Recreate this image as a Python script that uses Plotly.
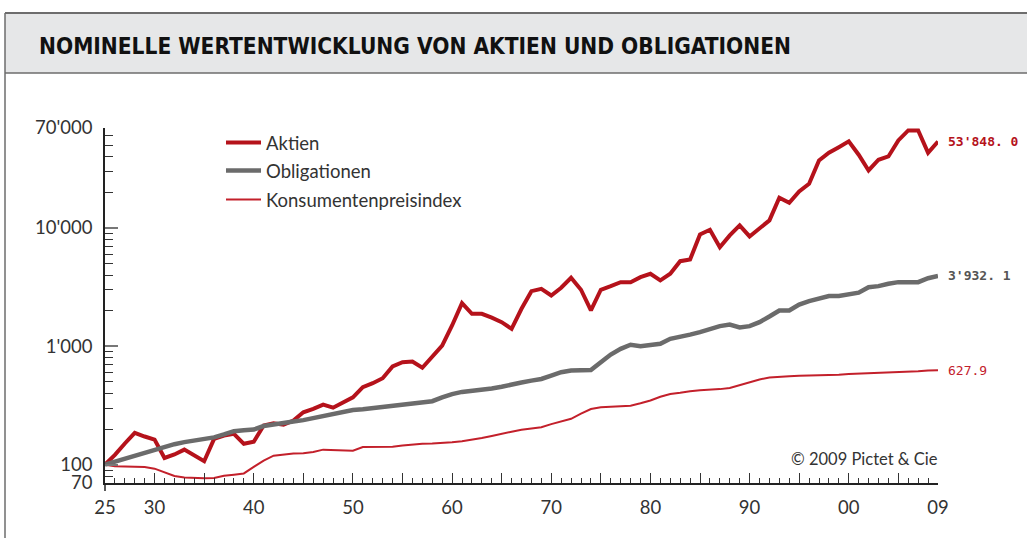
import math
import plotly.graph_objects as go

# ---------------- data ----------------
years = list(range(1925, 2010))

aktien = [100, 121, 151, 186, 173, 163, 114, 122, 134, 120,
          107, 165, 176, 182, 150, 156, 214, 224, 218, 236,
          277, 296, 322, 303, 338, 371, 452, 488, 538, 676,
          734, 745, 659, 809, 1015, 1500, 2317, 1884, 1884, 1747,
          1601, 1407, 2077, 2925, 3064, 2690, 3127, 3797, 3007, 2009,
          3007, 3223, 3485, 3485, 3842, 4103, 3610, 4103, 5242, 5415,
          8826, 9663, 6876, 8657, 10532, 8486, 9856, 11590, 18030, 16340,
          20370, 23660, 37200, 43240, 48190, 53940, 41600, 30640, 37740, 40240,
          54980, 66800, 66800, 43240, 53848.0]

obligationen = [100, 106, 112, 119, 126, 133, 141, 149, 155, 159,
                163, 170, 180, 192, 195, 198, 212, 220, 224, 232,
                238, 248, 256, 264, 276, 290, 294, 300, 310, 318,
                324, 328, 332, 344, 370, 395, 412, 420, 425, 440,
                455, 470, 495, 513, 530, 565, 605, 626, 626, 630,
                734, 853, 953, 1031, 1004, 1017, 1051, 1158, 1195, 1255,
                1318, 1407, 1481, 1530, 1446, 1481, 1601, 1788, 2009, 2009,
                2257, 2409, 2507, 2662, 2662, 2737, 2844, 3162, 3226, 3380,
                3487, 3487, 3487, 3766, 3932.1]

kpi = [100, 97, 96.5, 96, 95.5, 92.5, 86, 80.3, 78, 77.2,
       76.6, 77.2, 80.6, 82.3, 84.3, 95.7, 108, 119, 122, 124,
       125, 128, 134, 133, 132, 131, 141, 141, 141, 142,
       145, 148, 150, 151, 152, 155, 158, 162, 168, 175,
       183, 190, 197, 202, 207, 220, 232, 244, 270, 295,
       305, 309, 312, 315, 330, 349, 375, 395, 405, 418,
       425, 428, 435, 445, 470, 500, 525, 545, 555, 558,
       565, 567, 569, 570, 575, 583, 587, 590, 595, 600,
       605, 611, 617, 625, 627.9]

series_names = ["Aktien", "Obligationen", "Konsumentenpreisindex"]
end_labels = ["53'848. 0", "3'932. 1", "627.9"]

x_tickvals = [1925, 1930, 1935, 1940, 1945, 1950, 1955, 1960, 1965, 1970,
              1975, 1980, 1985, 1990, 1995, 2000, 2005, 2009]
x_ticktext = ["25", "30", "", "40", "", "50", "", "60", "", "70",
              "", "80", "", "90", "", "00", "", "09"]

y_tickvals = [70, 100, 1000, 10000, 70000]
y_ticktext = ["70", "100", "1'000", "10'000", "70'000"]

title_text = "NOMINELLE WERTENTWICKLUNG VON AKTIEN UND OBLIGATIONEN"
copyright_text = "© 2009 Pictet & Cie"

# ---------------- styling ----------------
W, H = 1027, 538
ML, MR, MT, MB = 105, 89, 128, 55
PW = W - ML - MR
PH = H - MT - MB

RED = "#b5121b"
RED_THIN = "#c3202b"
GRAY = "#6b6b6b"
TXT = "#333333"
FONT = "Lato, 'Open Sans', sans-serif"
MONO = "'DejaVu Sans Mono', monospace"
FS = 18.5


def px_x(px):
    return (px - ML) / PW


def px_y(py):
    return (H - MB - py) / PH


fig = go.Figure()

fig.add_trace(go.Scatter(x=years, y=aktien, mode="lines", name=series_names[0],
                         line=dict(color=RED, width=4), legend="legend"))
fig.add_trace(go.Scatter(x=years, y=obligationen, mode="lines", name=series_names[1],
                         line=dict(color=GRAY, width=4.5), legend="legend2"))
fig.add_trace(go.Scatter(x=years, y=kpi, mode="lines", name=series_names[2],
                         line=dict(color=RED_THIN, width=2), legend="legend3"))

shapes = [
    # header band
    dict(type="rect", xref="paper", yref="paper",
         x0=px_x(5), x1=px_x(W + 5), y0=px_y(73), y1=px_y(13),
         fillcolor="#e6e7e8", line=dict(width=0), layer="below"),
    dict(type="line", xref="paper", yref="paper",
         x0=px_x(5), x1=px_x(W + 5), y0=px_y(13), y1=px_y(13),
         line=dict(color="#6d6d6d", width=2)),
    dict(type="line", xref="paper", yref="paper",
         x0=px_x(5), x1=px_x(W + 5), y0=px_y(73), y1=px_y(73),
         line=dict(color="#6d6d6d", width=1.5)),
    dict(type="line", xref="paper", yref="paper",
         x0=px_x(5), x1=px_x(5), y0=px_y(13), y1=px_y(H + 5),
         line=dict(color="#6d6d6d", width=1.5)),
    # y axis extends below x axis
    dict(type="line", xref="paper", yref="paper",
         x0=0, x1=0, y0=0, y1=px_y(491),
         line=dict(color="#222222", width=1.5)),
]

annotations = [
    dict(text=title_text, xref="paper", yref="paper", x=px_x(37), y=px_y(46),
         xanchor="left", yanchor="middle", showarrow=False,
         font=dict(family="'Liberation Sans Narrow', 'DejaVu Sans Condensed', sans-serif",
                   size=22.5, color="#111111", weight="bold")),
    dict(text=copyright_text, xref="paper", yref="paper", x=px_x(940), y=px_y(459),
         xanchor="right", yanchor="middle", showarrow=False,
         font=dict(family=FONT, size=16.5, color=TXT)),
]

label_colors = [RED, "#555555", RED_THIN]
label_weights = ["bold", "bold", "normal"]
for vals, lab, col, wgt in zip([aktien, obligationen, kpi], end_labels, label_colors, label_weights):
    annotations.append(dict(text=lab, x=years[-1], y=math.log10(vals[-1]),
                            xref="x", yref="y", xanchor="left", yanchor="middle",
                            xshift=8, showarrow=False,
                            font=dict(family=MONO, size=13, color=col, weight=wgt)))

legend_common = dict(xanchor="left", yanchor="middle", bgcolor="rgba(0,0,0,0)",
                     font=dict(family=FONT, size=FS, color=TXT), borderwidth=0,
                     itemwidth=35)

fig.update_layout(
    width=W, height=H, autosize=False,
    margin=dict(l=ML, r=MR, t=MT, b=MB, pad=0),
    paper_bgcolor="white", plot_bgcolor="white",
    shapes=shapes, annotations=annotations,
    showlegend=True,
    legend=dict(x=px_x(221), y=px_y(143), **legend_common),
    legend2=dict(x=px_x(221), y=px_y(171), **legend_common),
    legend3=dict(x=px_x(221), y=px_y(200), **legend_common),
    xaxis=dict(range=[1925, 2009], tickmode="array", tickvals=x_tickvals, ticktext=x_ticktext,
               ticks="inside", ticklen=10, tickwidth=1.3, tickcolor="#333333",
               showline=True, linecolor="#222222", linewidth=1.5,
               showgrid=False, zeroline=False,
               tickfont=dict(family=FONT, size=FS, color=TXT), ticklabelstandoff=7,
               minor=dict(dtick=1, tick0=1925, ticks="inside", ticklen=5,
                          tickwidth=1.2, tickcolor="#333333", showgrid=False)),
    yaxis=dict(type="log", range=[math.log10(70), math.log10(70000)],
               tickmode="array", tickvals=y_tickvals, ticktext=y_ticktext,
               ticks="inside", ticklen=13, tickwidth=1.5, tickcolor="#777777",
               showline=True, linecolor="#222222", linewidth=1.5,
               showgrid=False, zeroline=False,
               tickfont=dict(family=FONT, size=FS, color=TXT), ticklabelstandoff=7,
               minor=dict(dtick="D1", ticks="inside", ticklen=8,
                          tickwidth=1.2, tickcolor="#333333", showgrid=False)),
)

fig.write_html("out.html", config={"displayModeBar": False},
               post_script="document.body.style.margin='0';document.body.style.padding='0';")
